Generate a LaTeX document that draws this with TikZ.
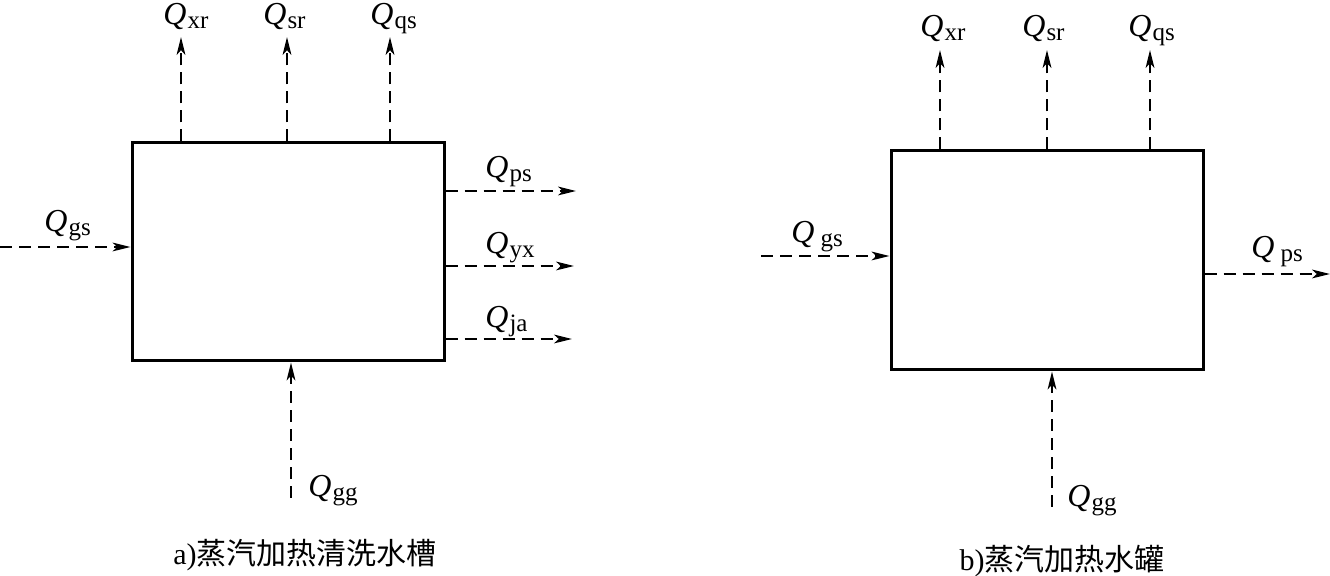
\documentclass[tikz,border=0pt]{standalone}
\usepackage{fontspec}
\setmainfont{Liberation Serif}
\newfontfamily\cjk{Noto Sans CJK SC}
\usetikzlibrary{arrows.meta}
\tikzset{
 box/.style={draw, line width=1.5pt, inner sep=0pt},
 flow/.style={line width=0.7pt, dash pattern=on 6pt off 3.5pt, -{Stealth[length=9pt,width=4.4pt,inset=2.4pt]}},
 lab/.style={anchor=base west, inner sep=0pt, font=\fontsize{16}{16}\selectfont},
 capt/.style={inner sep=0pt, font=\fontsize{15}{15}\selectfont}
}
\newcommand\QL[1]{\textit{Q}\kern0.5pt\raisebox{-2pt}{\fontsize{12.5}{12.5}\selectfont #1}}
\newcommand\QLs[1]{\textit{Q}\kern3pt\raisebox{-2pt}{\fontsize{12.5}{12.5}\selectfont #1}}
\begin{document}
\begin{tikzpicture}[x=0.5pt,y=-0.5pt]
\useasboundingbox (0,0) rectangle (1330,576);
% ---- a)
\node[box, minimum width=156pt, minimum height=109pt] (A) at (288,252) {};
\coordinate (a1) at (181,37);
\coordinate (a2) at (287,37);
\coordinate (a3) at (390,37);
\draw[flow] (A.north -| a1) -- (a1);
\draw[flow] (A.north -| a2) -- (a2);
\draw[flow] (A.north -| a3) -- (a3);
\node[lab] (la1) at (163,25) {\QL{xr}};
\node[lab] (la2) at (263,25) {\QL{sr}};
\node[lab] (la3) at (370,25) {\QL{qs}};
\coordinate (agsA) at (0,247);
\draw[flow] (agsA) -- (A.west |- agsA);
\node[lab] (lgsA) at (44,232) {\QL{gs}};
\coordinate (apsA) at (576,191);
\coordinate (ayxA) at (574,266);
\coordinate (ajaA) at (572,339);
\draw[flow] (A.east |- apsA) -- (apsA);
\draw[flow] (A.east |- ayxA) -- (ayxA);
\draw[flow] (A.east |- ajaA) -- (ajaA);
\node[lab] (lpsA) at (485,178) {\QL{ps}};
\node[lab] (lyxA) at (485,254) {\QL{yx}};
\node[lab] (ljaA) at (485,328) {\QL{ja}};
\coordinate (aggA) at (291,498);
\draw[flow] (aggA) -- (A.south -| aggA);
\node[lab] (lggA) at (308,497) {\QL{gg}};
\node[capt] (capA) at (305,555) {a)\cjk 蒸汽加热清洗水槽};
% ---- b)
\node[box, minimum width=156pt, minimum height=109.5pt] (B) at (1047,260.5) {};
\coordinate (b1) at (940,50);
\coordinate (b2) at (1047,50);
\coordinate (b3) at (1150,50);
\draw[flow] (B.north -| b1) -- (b1);
\draw[flow] (B.north -| b2) -- (b2);
\draw[flow] (B.north -| b3) -- (b3);
\node[lab] (lb1) at (920,37) {\QL{xr}};
\node[lab] (lb2) at (1022,37) {\QL{sr}};
\node[lab] (lb3) at (1128,37) {\QL{qs}};
\coordinate (bgsB) at (761,256);
\draw[flow] (bgsB) -- (B.west |- bgsB);
\node[lab] (lgsB) at (791,243) {\QLs{gs}};
\coordinate (bpsB) at (1330,274);
\draw[flow] (B.east |- bpsB) -- (bpsB);
\node[lab] (lpsB) at (1251,258) {\QLs{ps}};
\coordinate (bggB) at (1052,507);
\draw[flow] (bggB) -- (B.south -| bggB);
\node[lab] (lggB) at (1067,507) {\QL{gg}};
\node[capt] (capB) at (1062,561) {b)\cjk 蒸汽加热水罐};
\end{tikzpicture}
\end{document}
